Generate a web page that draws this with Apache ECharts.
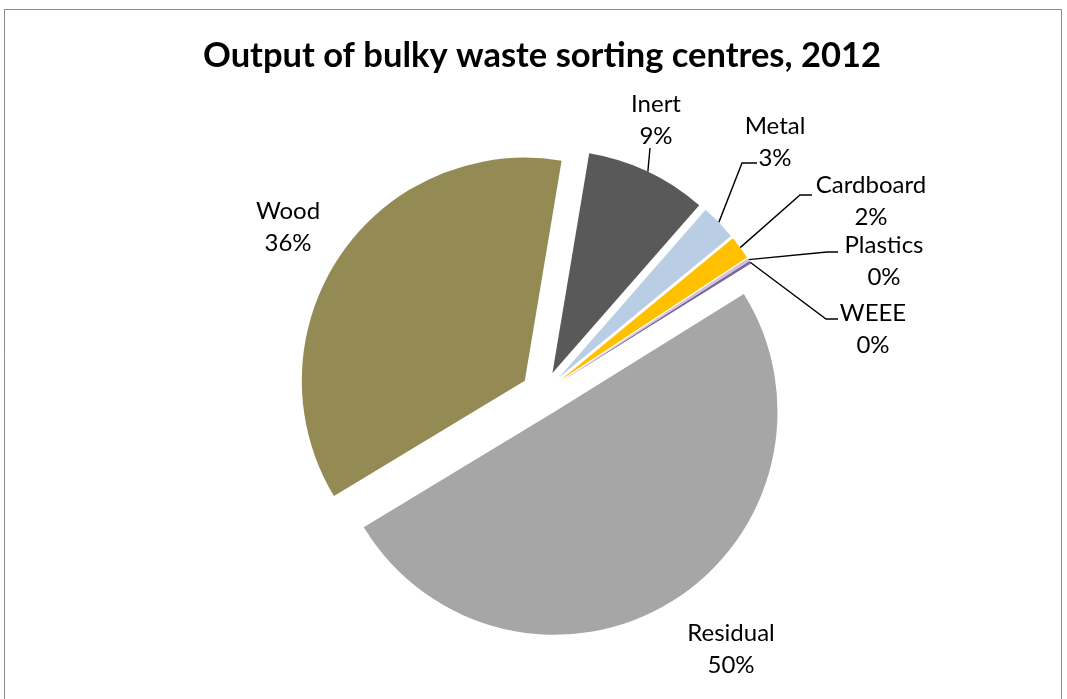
<!DOCTYPE html>
<html>
<head>
<meta charset="utf-8">
<script src="https://cdn.jsdelivr.net/npm/echarts@6/dist/echarts.min.js"></script>
<style>
  html, body { margin: 0; padding: 0; background: #fff; }
  #chart { width: 1067px; height: 699px; }
</style>
</head>
<body>
<div id="chart"></div>
<script>
// data (percent of output)
const categories = ['Inert', 'Metal', 'Cardboard', 'Plastics', 'WEEE', 'Residual', 'Wood']
const values = [8.8, 2.6, 1.7, 0.2, 0.2, 50.2, 36.3]
const colors = ['#595959', '#B9CDE5', '#FFC000', '#CCC1DA', '#8064A2', '#A6A6A6', '#948A54']

// where Excel put each data label (centre of the two-line block)
const labelSpots = [[656, 120], [775, 142], [871, 201], [884, 261], [873, 329], [731, 649], [288, 227]]
// leader lines: elbow and end point, null = no line
const leaderEnds = [
  [[650, 148], [650, 148]],
  [[742, 163], [757, 163]],
  [[800, 195], [812, 195]],
  [[827, 252], [838, 252]],
  [[826, 319], [838, 319]],
  null,
  null
]

const pieCenter = [543, 393]
const pieRadius = 223
const explode = 22
const firstAngle = 9.5 // degrees clockwise from 12 o'clock

const chart = echarts.init(document.getElementById('chart'))

// every slice is pulled out along its own middle direction, like Excel's explode,
// so each one gets its own pie series with the other slices left invisible
const total = values.reduce(function (a, b) { return a + b }, 0)
let acc = 0
const series = categories.map(function (name, i) {
  const mid = (firstAngle + (acc + values[i] / 2) / total * 360) * Math.PI / 180
  acc += values[i]
  const cx = pieCenter[0] + explode * Math.sin(mid)
  const cy = pieCenter[1] - explode * Math.cos(mid)
  const edge = [cx + pieRadius * Math.sin(mid), cy - pieRadius * Math.cos(mid)]
  return {
    type: 'pie',
    silent: true,
    center: [cx, cy],
    radius: pieRadius,
    startAngle: 90 - firstAngle,
    clockwise: true,
    avoidLabelOverlap: false,
    percentPrecision: 0,
    emphasis: { disabled: true },
    label: {
      position: 'outside',
      formatter: '{b}\n{d}%',
      fontFamily: 'Lato',
      fontSize: 24,
      lineHeight: 32,
      color: '#000'
    },
    labelLine: {
      length: 20,
      length2: 12,
      lineStyle: { color: '#000', width: 1.4 }
    },
    labelLayout: function (params) {
      if (params.dataIndex !== i) return {}
      const p = labelSpots[i]
      const out = { x: p[0], y: p[1], align: 'center', verticalAlign: 'middle' }
      if (leaderEnds[i]) out.labelLinePoints = [edge, leaderEnds[i][0], leaderEnds[i][1]]
      return out
    },
    data: categories.map(function (n, j) {
      const own = j === i
      return {
        name: n,
        value: values[j],
        itemStyle: { color: colors[j], opacity: own ? 1 : 0 },
        label: { show: own },
        labelLine: { show: own && leaderEnds[j] !== null }
      }
    })
  }
})

chart.setOption({
  animation: false,
  backgroundColor: '#fff',
  title: {
    text: 'Output of bulky waste sorting centres, 2012',
    left: 198,
    top: 33,
    textStyle: {
      fontFamily: 'Lato',
      fontWeight: 'bold',
      fontSize: 34.5,
      color: '#000'
    }
  },
  graphic: [{
    type: 'rect',
    shape: { x: 4.5, y: 9.5, width: 1057, height: 720 },
    style: { fill: 'none', stroke: '#8c8c8c', lineWidth: 1 },
    silent: true
  }],
  series: series
})
</script>
</body>
</html>
